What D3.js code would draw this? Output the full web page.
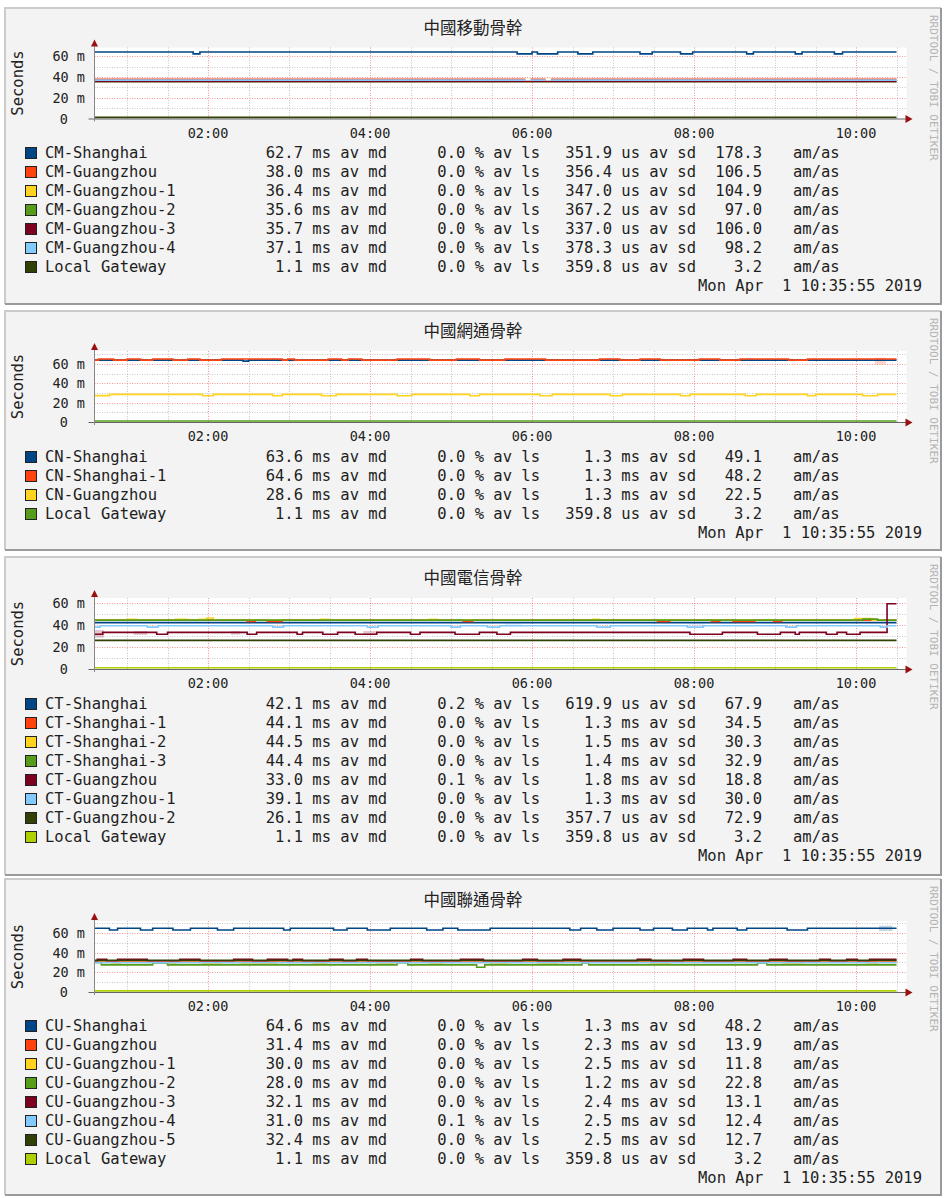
<!DOCTYPE html>
<html>
<head>
<meta charset="utf-8">
<script src="https://cdn.jsdelivr.net/npm/d3@7"></script>
<style>
  body { margin: 0; background: #fff; }
  text { font-family: "DejaVu Sans Mono", monospace; }
</style>
</head>
<body>
<div id="wrapper"></div>
<script>
// ---- data ----
const palette = ['#004586', '#ff420e', '#ffd320', '#579d1c', '#7e0021', '#83caff', '#314004', '#aecf00'];
const yTicks = [0, 20, 40, 60];
const timeTicks = ['02:00', '04:00', '06:00', '08:00', '10:00'];
const stampText = 'Mon Apr  1 10:35:55 2019';

// 中國移動
const cmNames = ['CM-Shanghai', 'CM-Guangzhou', 'CM-Guangzhou-1', 'CM-Guangzhou-2', 'CM-Guangzhou-3', 'CM-Guangzhou-4', 'Local Gateway'];
const cmMedian = ['62.7 ms', '38.0 ms', '36.4 ms', '35.6 ms', '35.7 ms', '37.1 ms', '1.1 ms'];
const cmLoss = ['0.0', '0.0', '0.0', '0.0', '0.0', '0.0', '0.0'];
const cmSd = ['351.9 us', '356.4 us', '347.0 us', '367.2 us', '337.0 us', '378.3 us', '359.8 us'];
const cmAmas = ['178.3', '106.5', '104.9', '97.0', '106.0', '98.2', '3.2'];
const cmShanghaiSteps = [['00:36', 64.2], ['01:49', 62.4], ['01:54', 64.2], ['05:49', 62.4], ['06:00', 64.2], ['06:04', 62.4], ['06:19', 64.2], ['06:34', 62.4], ['06:45', 64.2], ['07:20', 62.4], ['07:29', 64.2], ['07:50', 62.4], ['07:59', 64.2], ['08:39', 62.4], ['08:44', 64.2], ['09:15', 62.4], ['09:20', 64.2], ['09:44', 62.4], ['09:50', 64.2]];
const cmGuangzhouSteps = [['00:36', 37.9], ['05:55', null], ['05:59', 37.9], ['06:10', null], ['06:14', 37.9]];
const cmGuangzhou1Steps = [['00:36', 36.3], ['05:55', null], ['05:59', 36.3], ['06:10', null], ['06:14', 36.3]];
const cmGuangzhou2Steps = [['00:36', 35.5]];
const cmGuangzhou3Steps = [['00:36', 35.7]];
const cmGuangzhou4Steps = [['00:36', 37.1], ['05:55', null], ['05:59', 37.1], ['06:10', null], ['06:14', 37.1]];
const cmGatewaySteps = [['00:36', 1.1]];
const cmSmoke = [];

// 中國網通
const cnNames = ['CN-Shanghai', 'CN-Shanghai-1', 'CN-Guangzhou', 'Local Gateway'];
const cnMedian = ['63.6 ms', '64.6 ms', '28.6 ms', '1.1 ms'];
const cnLoss = ['0.0', '0.0', '0.0', '0.0'];
const cnSd = ['1.3 ms', '1.3 ms', '1.3 ms', '359.8 us'];
const cnAmas = ['49.1', '48.2', '22.5', '3.2'];
const cnShanghaiSteps = [['00:36', 64.0], ['02:26', 62.9], ['02:30', 64.0]];
const cnShanghai1Steps = [['00:36', 64.0], ['00:39', 65.2], ['00:50', 64.0], ['01:00', 65.2], ['01:10', 64.0], ['01:19', 65.2], ['01:34', 64.0], ['01:45', 65.2], ['01:54', 64.0], ['02:10', 65.2], ['02:55', 64.0], ['02:59', 65.2], ['03:04', 64.0], ['03:29', 65.2], ['03:39', 64.0], ['03:44', 65.2], ['03:54', 64.0], ['04:20', 65.2], ['04:44', 64.0], ['05:04', 65.2], ['05:21', 64.0], ['05:40', 65.2], ['06:10', 64.0], ['06:50', 65.2], ['07:05', 64.0], ['07:20', 65.2], ['07:35', 64.0], ['08:04', 65.2], ['08:19', 64.0], ['08:34', 65.2], ['09:10', 64.0], ['09:24', 65.2]];
const cnGuangzhouSteps = [['00:36', 27.3], ['00:47', 28.6], ['01:56', 27.2], ['02:04', 28.6], ['02:48', 27.2], ['02:55', 28.6], ['03:24', 27.2], ['03:35', 28.6], ['04:20', 27.2], ['04:31', 28.6], ['05:14', 27.2], ['05:21', 28.6], ['06:06', 27.2], ['06:15', 28.6], ['06:58', 27.2], ['07:07', 28.6], ['07:50', 27.2], ['07:57', 28.6], ['08:38', 27.2], ['08:46', 28.6], ['09:24', 27.2], ['09:30', 28.6], ['10:05', 27.2], ['10:16', 28.6]];
const cnGatewaySteps = [['00:36', 1.1]];
const cnSmoke = [[0, '09:35', '09:44', 63.2, 65.0], [1, '10:14', '10:22', 59.5, 66.5]];

// 中國電信
const ctNames = ['CT-Shanghai', 'CT-Shanghai-1', 'CT-Shanghai-2', 'CT-Shanghai-3', 'CT-Guangzhou', 'CT-Guangzhou-1', 'CT-Guangzhou-2', 'Local Gateway'];
const ctMedian = ['42.1 ms', '44.1 ms', '44.5 ms', '44.4 ms', '33.0 ms', '39.1 ms', '26.1 ms', '1.1 ms'];
const ctLoss = ['0.2', '0.0', '0.0', '0.0', '0.1', '0.0', '0.0', '0.0'];
const ctSd = ['619.9 us', '1.3 ms', '1.5 ms', '1.4 ms', '1.8 ms', '1.3 ms', '357.7 us', '359.8 us'];
const ctAmas = ['67.9', '34.5', '30.3', '32.9', '18.8', '30.0', '72.9', '3.2'];
const ctShanghaiSteps = [['00:36', 42.1]];
const ctShanghai1Steps = [['00:36', 44.4], ['02:29', 43.1], ['02:35', 44.4], ['02:44', 43.1], ['02:55', 44.4], ['05:09', 43.1], ['05:16', 44.4], ['07:33', 43.1], ['07:42', 44.4], ['08:13', 43.1], ['08:19', 44.4], ['08:29', 43.1], ['08:45', 44.4], ['08:59', 43.1], ['09:05', 44.4]];
const ctShanghai2Steps = [['00:36', 44.4], ['01:00', 45.1], ['01:07', 44.4], ['01:36', 45.1], ['01:45', 44.4], ['01:53', 45.1], ['01:59', 46.3], ['02:04', 44.4], ['03:23', 45.1], ['03:29', 44.4], ['04:44', 45.1], ['04:50', 44.4], ['06:45', 45.1], ['06:50', 44.4], ['09:59', 45.8], ['10:12', 44.4]];
const ctShanghai3Steps = [['00:36', 44.4], ['10:05', 45.3], ['10:16', 44.4]];
const ctGuangzhouSteps = [['00:36', 31.6], ['00:42', 33.3], ['01:22', 31.6], ['01:30', 33.3], ['02:29', 31.6], ['02:36', 33.3], ['03:06', 31.6], ['03:10', 33.3], ['03:25', 31.6], ['03:36', 33.3], ['03:49', 31.6], ['04:05', 33.3], ['04:30', 31.6], ['04:37', 33.3], ['05:03', 31.6], ['05:21', 33.3], ['05:34', 31.6], ['05:44', 33.3], ['07:57', 31.6], ['08:21', 33.3], ['08:47', 31.6], ['09:04', 33.3], ['09:15', 31.6], ['09:18', 33.3], ['09:38', 31.6], ['09:46', 33.3], ['09:53', 31.6], ['10:03', 33.3], ['10:23', 59.3]];
const ctGuangzhou1Steps = [['00:36', 38.0], ['00:40', 39.3], ['01:15', 38.0], ['01:23', 39.3], ['02:48', 38.0], ['02:56', 39.3], ['03:58', 38.0], ['04:06', 39.3], ['05:00', 38.0], ['05:07', 39.3], ['05:27', 38.0], ['05:36', 39.3], ['06:48', 38.0], ['06:58', 39.3], ['07:55', 38.0], ['08:07', 39.3], ['09:08', 38.0], ['09:16', 39.3], ['10:18', 38.0], ['10:23', 39.3]];
const ctGuangzhou2Steps = [['00:36', 26.0]];
const ctGatewaySteps = [['00:36', 1.1]];
const ctSmoke = [[4, '00:36', '00:43', 28.5, 35.5], [4, '01:05', '01:15', 31.0, 34.5], [4, '02:17', '02:24', 31.2, 34.5], [4, '03:55', '04:05', 31.0, 34.5], [5, '05:40', '05:52', 38.5, 41.5], [5, '07:55', '08:08', 38.5, 41.5]];

// 中國聯通
const cuNames = ['CU-Shanghai', 'CU-Guangzhou', 'CU-Guangzhou-1', 'CU-Guangzhou-2', 'CU-Guangzhou-3', 'CU-Guangzhou-4', 'CU-Guangzhou-5', 'Local Gateway'];
const cuMedian = ['64.6 ms', '31.4 ms', '30.0 ms', '28.0 ms', '32.1 ms', '31.0 ms', '32.4 ms', '1.1 ms'];
const cuLoss = ['0.0', '0.0', '0.0', '0.0', '0.0', '0.1', '0.0', '0.0'];
const cuSd = ['1.3 ms', '2.3 ms', '2.5 ms', '1.2 ms', '2.4 ms', '2.5 ms', '2.5 ms', '359.8 us'];
const cuAmas = ['48.2', '13.9', '11.8', '22.8', '13.1', '12.4', '12.7', '3.2'];
const cuShanghaiSteps = [['00:36', 64.9], ['00:47', 63.0], ['00:53', 64.9], ['01:10', 63.0], ['01:19', 64.9], ['01:34', 63.0], ['01:47', 64.9], ['02:07', 63.0], ['02:19', 64.9], ['02:56', 63.0], ['03:01', 64.9], ['03:33', 63.0], ['03:43', 64.9], ['03:58', 63.0], ['04:15', 64.9], ['04:42', 63.0], ['04:54', 64.9], ['05:05', 63.0], ['05:29', 64.9], ['06:28', 63.0], ['06:36', 64.9], ['06:48', 63.0], ['07:00', 64.9], ['07:20', 63.0], ['07:30', 64.9], ['07:44', 63.0], ['07:55', 64.9], ['08:10', 63.0], ['08:14', 64.9], ['08:32', 63.0], ['08:39', 64.9], ['09:09', 63.0], ['09:24', 64.9]];
const cuGuangzhouSteps = [['00:36', 31.4]];
const cuGuangzhou1Steps = [['00:36', 30.0], ['00:49', 28.7], ['00:55', 30.0], ['01:30', 28.7], ['01:36', 30.0], ['01:56', 28.7], ['02:09', 30.0], ['02:24', 28.7], ['02:51', 30.0], ['03:18', 28.7], ['03:28', 30.0], ['04:05', 28.7], ['04:17', 30.0], ['04:44', 28.7], ['04:54', 30.0], ['05:29', 28.7], ['05:42', 30.0], ['06:04', 28.7], ['06:19', 30.0], ['07:28', 28.7], ['07:42', 30.0], ['09:06', 28.7], ['09:21', 30.0], ['10:08', 28.7], ['10:16', 30.0]];
const cuGuangzhou2Steps = [['00:36', 30.0], ['00:41', 27.6], ['01:19', 29.6], ['01:30', 27.6], ['04:20', 29.8], ['04:28', 27.6], ['05:19', 25.2], ['05:25', 27.6], ['06:37', 29.5], ['06:42', 27.6], ['08:47', 29.5], ['08:54', 27.6]];
const cuGuangzhou3Steps = [['00:36', 31.8], ['00:38', 33.2], ['00:45', 31.8], ['00:53', 33.2], ['01:15', 31.8], ['01:39', 33.2], ['01:54', 31.8], ['02:19', 33.2], ['02:33', 31.8], ['02:44', 33.2], ['02:59', 31.8], ['03:03', 33.2], ['03:10', 31.8], ['03:30', 33.2], ['03:40', 31.8], ['03:50', 33.2], ['03:58', 31.8], ['04:30', 33.2], ['04:39', 31.8], ['05:07', 33.2], ['05:24', 31.8], ['05:53', 33.2], ['06:04', 31.8], ['06:23', 33.2], ['06:36', 31.8], ['07:18', 33.2], ['07:28', 31.8], ['07:52', 33.2], ['08:07', 31.8], ['08:29', 33.2], ['08:39', 31.8], ['08:56', 33.2], ['09:09', 31.8], ['09:33', 33.2], ['09:41', 31.8], ['09:53', 33.2], ['10:01', 31.8], ['10:10', 33.2]];
const cuGuangzhou4Steps = [['00:36', 29.9]];
const cuGuangzhou5Steps = [['00:36', 32.3]];
const cuGatewaySteps = [['00:36', 1.1]];
const cuSmoke = [[0, '10:17', '10:27', 62.0, 67.5]];

const panels = [
  { title: '中國移動骨幹', names: cmNames, median: cmMedian, loss: cmLoss, sd: cmSd, amas: cmAmas, smoke: cmSmoke, yMax: 68.6,
    steps: [cmShanghaiSteps, cmGuangzhouSteps, cmGuangzhou1Steps, cmGuangzhou2Steps, cmGuangzhou3Steps, cmGuangzhou4Steps, cmGatewaySteps] },
  { title: '中國網通骨幹', names: cnNames, median: cnMedian, loss: cnLoss, sd: cnSd, amas: cnAmas, smoke: cnSmoke, yMax: 73.4,
    steps: [cnShanghaiSteps, cnShanghai1Steps, cnGuangzhouSteps, cnGatewaySteps] },
  { title: '中國電信骨幹', names: ctNames, median: ctMedian, loss: ctLoss, sd: ctSd, amas: ctAmas, smoke: ctSmoke, yMax: 64.5,
    steps: [ctShanghaiSteps, ctShanghai1Steps, ctShanghai2Steps, ctShanghai3Steps, ctGuangzhouSteps, ctGuangzhou1Steps, ctGuangzhou2Steps, ctGatewaySteps] },
  { title: '中國聯通骨幹', names: cuNames, median: cuMedian, loss: cuLoss, sd: cuSd, amas: cuAmas, smoke: cuSmoke, yMax: 72.2,
    steps: [cuShanghaiSteps, cuGuangzhouSteps, cuGuangzhou1Steps, cuGuangzhou2Steps, cuGuangzhou3Steps, cuGuangzhou4Steps, cuGuangzhou5Steps, cuGatewaySteps] },
];

// ---- layout ----
const dimensions = { width: 949, height: 1198, boxLeft: 5, boxRight: 941, plotLeft: 94.5, plotRight: 904.5, plotHeight: 71 };
const layout = [
  { top: 8, bottom: 304, y0: 118.5, title: 27, legend: 153 },
  { top: 311, bottom: 550, y0: 422, title: 330, legend: 457 },
  { top: 557, bottom: 875, y0: 669, title: 577, legend: 704 },
  { top: 879, bottom: 1195, y0: 992, title: 899, legend: 1026 },
];
const rowStep = 19;

const parseT = s => {
  const [h, m] = s.split(':').map(Number);
  return new Date(2019, 3, 1, h, m);
};
const dataEnd = '10:30';

const xScale = d3.scaleTime()
  .domain([new Date(2019, 3, 1, 0, 35, 55), new Date(2019, 3, 1, 10, 35, 55)])
  .range([dimensions.plotLeft, dimensions.plotRight]);

// step list -> points with explicit horizontal runs
function toPoints(steps) {
  const pts = [];
  steps.forEach((s, i) => {
    const t1 = i < steps.length - 1 ? steps[i + 1][0] : dataEnd;
    pts.push({ t: parseT(s[0]), v: s[1] }, { t: parseT(t1), v: s[1] });
  });
  return pts;
}

const wrapper = d3.select('#wrapper')
  .append('svg')
  .attr('width', dimensions.width)
  .attr('height', dimensions.height);

panels.forEach((p, pi) => {
  const L = layout[pi];
  const g = wrapper.append('g').attr('class', 'panel');
  const plotTop = L.y0 - dimensions.plotHeight;

  // frame
  g.append('rect')
    .attr('x', dimensions.boxLeft).attr('y', L.top)
    .attr('width', dimensions.boxRight - dimensions.boxLeft)
    .attr('height', L.bottom - L.top)
    .attr('fill', '#f3f3f3');
  g.append('path')
    .attr('d', `M${dimensions.boxLeft},${L.bottom} V${L.top} H${dimensions.boxRight}`)
    .attr('fill', 'none').attr('stroke', '#cbcbcb').attr('stroke-width', 2);
  g.append('path')
    .attr('d', `M${dimensions.boxLeft},${L.bottom} H${dimensions.boxRight} V${L.top}`)
    .attr('fill', 'none').attr('stroke', '#9a9a9a').attr('stroke-width', 2);

  const yScale = d3.scaleLinear()
    .domain([0, p.yMax])
    .range([L.y0, plotTop]);

  // canvas
  g.append('rect')
    .attr('x', dimensions.plotLeft).attr('y', plotTop)
    .attr('width', dimensions.plotRight - dimensions.plotLeft + 2)
    .attr('height', dimensions.plotHeight)
    .attr('fill', '#fff');

  // grid
  const minorT = xScale.ticks(d3.timeMinute.every(30));
  const isMajorT = d => d.getMinutes() === 0 && d.getHours() % 2 === 0;
  g.append('g').selectAll('line')
    .data(minorT)
    .join('line')
    .attr('x1', d => Math.round(xScale(d)) + 0.5)
    .attr('x2', d => Math.round(xScale(d)) + 0.5)
    .attr('y1', L.y0)
    .attr('y2', plotTop)
    .attr('stroke', d => isMajorT(d) ? 'rgba(240,60,60,0.55)' : 'rgba(130,130,130,0.45)')
    .attr('stroke-dasharray', '1,1.5');
  const gridV = yScale.ticks(7).filter(v => v > 0);
  g.append('g').selectAll('line')
    .data(gridV)
    .join('line')
    .attr('x1', dimensions.plotLeft)
    .attr('x2', dimensions.plotRight + 2)
    .attr('y1', d => Math.round(yScale(d)) + 0.5)
    .attr('y2', d => Math.round(yScale(d)) + 0.5)
    .attr('stroke', d => d % 20 === 0 ? 'rgba(240,60,60,0.55)' : 'rgba(130,130,130,0.45)')
    .attr('stroke-dasharray', '1,1.5');

  // smoke
  g.append('g').selectAll('rect')
    .data(p.smoke)
    .join('rect')
    .attr('x', d => xScale(parseT(d[1])))
    .attr('width', d => xScale(parseT(d[2])) - xScale(parseT(d[1])))
    .attr('y', d => yScale(d[4]))
    .attr('height', d => yScale(d[3]) - yScale(d[4]))
    .attr('fill', d => palette[d[0]])
    .attr('opacity', 0.22);

  // series
  const line = d3.line()
    .defined(d => d.v !== null)
    .x(d => xScale(d.t))
    .y(d => yScale(d.v));
  g.append('g').selectAll('path')
    .data(p.steps)
    .join('path')
    .attr('d', d => line(toPoints(d)))
    .attr('fill', 'none')
    .attr('stroke', (d, i) => palette[i])
    .attr('stroke-width', 1.6);

  // axes
  g.append('line')
    .attr('x1', dimensions.plotLeft - 6).attr('x2', dimensions.plotRight + 2)
    .attr('y1', L.y0 + 0.5).attr('y2', L.y0 + 0.5)
    .attr('stroke', '#666').attr('stroke-width', 1);
  g.append('line')
    .attr('x1', dimensions.plotLeft).attr('x2', dimensions.plotLeft)
    .attr('y1', L.y0 + 3).attr('y2', plotTop - 1)
    .attr('stroke', '#888').attr('stroke-width', 1);
  g.append('path')
    .attr('d', `M${dimensions.plotRight + 1},${L.y0 - 3.5} L${dimensions.plotRight + 8},${L.y0 + 0.5} L${dimensions.plotRight + 1},${L.y0 + 4.5} Z`)
    .attr('fill', '#9a1010');
  g.append('path')
    .attr('d', `M${dimensions.plotLeft - 3.5},${plotTop - 1} L${dimensions.plotLeft},${plotTop - 8} L${dimensions.plotLeft + 3.5},${plotTop - 1} Z`)
    .attr('fill', '#9a1010');

  // tick labels
  g.append('g').selectAll('text')
    .data(yTicks)
    .join('text')
    .attr('x', d => d === 0 ? 68 : 85)
    .attr('y', d => yScale(d))
    .attr('text-anchor', 'end')
    .attr('dominant-baseline', 'central')
    .style('font-size', '13.5px')
    .attr('fill', '#222')
    .text(d => d === 0 ? '0' : `${d} m`);
  g.append('g').selectAll('text')
    .data(timeTicks)
    .join('text')
    .attr('x', d => xScale(parseT(d)))
    .attr('y', L.y0 + 14)
    .attr('text-anchor', 'middle')
    .attr('dominant-baseline', 'central')
    .style('font-size', '13.5px')
    .attr('fill', '#222')
    .text(d => d);

  // labels
  g.append('text')
    .attr('transform', `translate(18,${(plotTop + L.y0) / 2}) rotate(-90)`)
    .attr('text-anchor', 'middle')
    .attr('dominant-baseline', 'central')
    .style('font-size', '15.5px')
    .attr('fill', '#222')
    .text('Seconds');
  g.append('text')
    .attr('x', (dimensions.boxLeft + dimensions.boxRight) / 2)
    .attr('y', L.title)
    .attr('text-anchor', 'middle')
    .attr('dominant-baseline', 'central')
    .style('font-family', '"Noto Sans CJK TC", "Noto Sans CJK SC", sans-serif')
    .style('font-size', '16.5px')
    .attr('fill', '#222')
    .text(p.title);
  g.append('text')
    .attr('transform', `translate(933,${L.top + 7}) rotate(90)`)
    .attr('dominant-baseline', 'central')
    .style('font-size', '11px')
    .attr('fill', '#b4b4b4')
    .text('RRDTOOL / TOBI OETIKER');

  // legend
  const rows = g.append('g').selectAll('g')
    .data(p.names)
    .join('g')
    .attr('transform', (d, i) => `translate(0,${L.legend + i * rowStep})`);
  rows.append('rect')
    .attr('x', 25.5).attr('y', -5.5)
    .attr('width', 11).attr('height', 11)
    .attr('fill', (d, i) => palette[i])
    .attr('stroke', '#222').attr('stroke-width', 1);
  const cols = [
    { x: 45, anchor: 'start', f: (d, i) => d },
    { x: 387, anchor: 'end', f: (d, i) => `${p.median[i]} av md` },
    { x: 540, anchor: 'end', f: (d, i) => `${p.loss[i]} % av ls` },
    { x: 696, anchor: 'end', f: (d, i) => `${p.sd[i]} av sd` },
    { x: 762, anchor: 'end', f: (d, i) => p.amas[i] },
    { x: 793, anchor: 'start', f: () => 'am/as' },
  ];
  cols.forEach(c => {
    rows.append('text')
      .attr('x', c.x)
      .attr('text-anchor', c.anchor)
      .attr('dominant-baseline', 'central')
      .style('font-size', '15.5px')
      .attr('fill', '#1e1e1e')
      .text(c.f);
  });
  g.append('text')
    .attr('x', 922)
    .attr('y', L.legend + p.names.length * rowStep)
    .attr('text-anchor', 'end')
    .attr('dominant-baseline', 'central')
    .style('font-size', '15.5px')
    .style('white-space', 'pre')
    .attr('fill', '#1e1e1e')
    .text(stampText);
});
</script>
</body>
</html>
